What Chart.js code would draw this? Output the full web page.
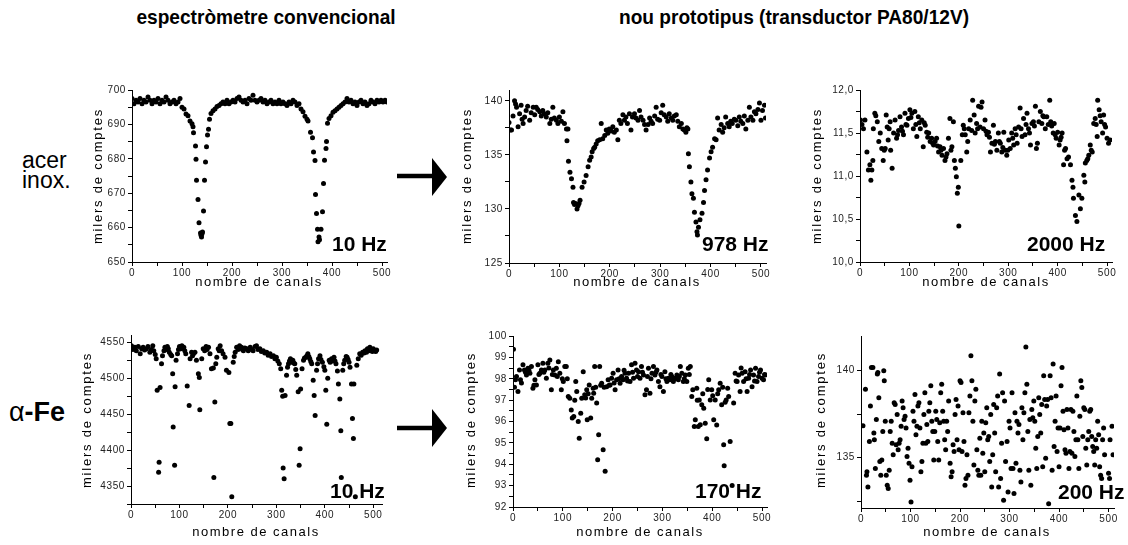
<!DOCTYPE html>
<html>
<head>
<meta charset="utf-8">
<script src="https://cdn.jsdelivr.net/npm/chart.js@4/dist/chart.umd.min.js"></script>
<style>
  body { margin: 0; background: #fff; width: 1128px; height: 545px; position: relative; overflow: hidden;
         font-family: "Liberation Sans", Arial, sans-serif; color: #000; }
  canvas { position: absolute; }
  .txt { position: absolute; white-space: nowrap; z-index: 3; }
  .head { font-family: "Liberation Sans Narrow", "Liberation Sans", Arial, sans-serif; font-weight: bold;
          font-size: 21px; top: 5px; transform: translateX(-50%) scaleX(0.91); }
  .ytitle { font-size: 13px; letter-spacing: 1.8px; transform: translate(-50%, -50%) rotate(-90deg); }
  .xtitle { font-size: 13px; letter-spacing: 1.5px; transform: translateX(-50%); }
  .hz { font-weight: bold; font-size: 21px; line-height: 24px; }
  .sample { font-size: 23px; line-height: 20px; }
</style>
</head>
<body>

<div class="txt head" style="left:266px">espectròmetre convencional</div>
<div class="txt head" style="left:794px">nou prototipus (transductor PA80/12V)</div>

<div class="txt sample" style="left:22px;top:150px">acer<br>inox.</div>
<div class="txt" style="left:9px;top:397px;font-size:27px;line-height:30px">α<b>-Fe</b></div>

<svg style="position:absolute;left:0;top:0;z-index:3" width="1128" height="545">
  <line x1="397" y1="176" x2="434" y2="176" stroke="#000" stroke-width="4.5"/>
  <polygon points="432,158 447,177 432,196" fill="#000"/>
  <line x1="397" y1="428" x2="434" y2="428" stroke="#000" stroke-width="4.5"/>
  <polygon points="432,409 447,428 432,447" fill="#000"/>
</svg>

<div class="txt ytitle" style="left:97px;top:176px">milers de comptes</div>
<div class="txt ytitle" style="left:466px;top:176px">milers de comptes</div>
<div class="txt ytitle" style="left:816px;top:176px">milers de comptes</div>
<div class="txt ytitle" style="left:86px;top:420px">milers de comptes</div>
<div class="txt ytitle" style="left:470px;top:420px">milers de comptes</div>
<div class="txt ytitle" style="left:820px;top:420px">milers de comptes</div>

<div class="txt xtitle" style="left:259px;top:274px">nombre de canals</div>
<div class="txt xtitle" style="left:637px;top:274px">nombre de canals</div>
<div class="txt xtitle" style="left:986px;top:274px">nombre de canals</div>
<div class="txt xtitle" style="left:256px;top:524px">nombre de canals</div>
<div class="txt xtitle" style="left:640px;top:524px">nombre de canals</div>
<div class="txt xtitle" style="left:987px;top:524px">nombre de canals</div>

<div class="txt hz" style="left:332px;top:232px">10 Hz</div>
<div class="txt hz" style="left:702px;top:232px">978 Hz</div>
<div class="txt hz" style="left:1027px;top:232px">2000 Hz</div>
<div class="txt hz" style="left:330px;top:479px">10 Hz</div>
<div class="txt hz" style="left:695px;top:479px">170 Hz</div>
<div class="txt hz" style="left:1058px;top:480px">200 Hz</div>

<script>
// [canal, milers de comptes]
const acerConv = [[0,697.5],[4,696],[8,697],[12,696.5],[16,697.5],[20,696],[24,697],[28,696.5],[32,698],[36,697],[40,696],[44,697],[48,696.5],[52,697.5],[56,696],[60,697],[64,696.5],[68,698],[72,697],[76,696],[80,696.5],[84,697],[88,696],[92,696.5],[96,697.5],[100,695],[104,694.5],[108,693],[112,692.5],[116,691],[120,690.2],[122,689.3],[123,687.6],[127,683.7],[128,679.9],[129,673.8],[132,668.2],[134,661.4],[137,658.4],[138,657.8],[139,657.3],[140,658.2],[141,658.7],[143,664.8],[145,673.8],[147,679.1],[149,683.5],[151,686.9],[153,688.6],[155,691.5],[158,693.2],[162,694],[166,694.5],[170,695.2],[174,695.5],[178,696],[182,696.5],[186,696],[190,697],[194,696],[198,696.5],[202,697],[206,696.5],[210,697.5],[214,698],[218,697],[222,696.5],[226,697],[230,696],[234,697.5],[238,697],[242,698.5],[246,697],[250,696.5],[254,697],[258,697.5],[262,696.5],[266,697],[270,696],[274,696.5],[278,697],[282,696],[286,696.5],[290,696],[294,697],[298,696],[302,696.5],[306,696],[310,695.5],[314,696.5],[318,696],[322,697],[326,696.5],[330,695.5],[334,696],[338,694.5],[342,693.7],[346,692.4],[350,691.5],[352,691],[357,687.7],[361,686.1],[363,682],[366,679.5],[367,669.6],[369,664.1],[371,659.5],[372,655.9],[374,657.3],[375,656.5],[378,659.5],[381,664.6],[383,672.8],[385,679.6],[388,683],[389,685],[391,690.3],[394,691.7],[398,692.5],[402,693.5],[406,694],[410,694.5],[414,695],[418,695.5],[422,696],[426,696.5],[430,697.5],[434,696.5],[438,697],[442,696],[446,696.5],[450,695.5],[454,696.5],[458,697],[462,696],[466,696.5],[470,695.5],[474,696],[478,697],[482,696.5],[486,696],[490,697],[494,696.5],[498,697],[502,696.5],[506,697],[510,696.5]];

const acer978 = [[0,138],[3,137.3],[5,137.3],[8,138.6],[11,140],[13,139.7],[15,139.4],[18,137.6],[21,138.8],[24,139.6],[26,138.3],[28,137.9],[31,138.5],[34,139.1],[37,139.5],[41,138.2],[44,138.9],[48,139.4],[51,138.7],[54,139.4],[57,139.2],[61,139],[64,138.6],[67,139.1],[70,138.8],[74,138.5],[77,138.9],[81,137.9],[84,138.3],[87,139.4],[90,138.4],[94,138.2],[97,137.9],[100,138.5],[104,138.1],[107,139],[110,137.9],[114,137.4],[115,136.3],[117,137.4],[118,134.4],[121,133.4],[124,132.8],[127,132],[128,130.6],[130,130.4],[132,130.5],[135,130],[137,130.3],[139,130.5],[141,130.8],[145,132],[149,132.5],[153,133.1],[157,133.9],[160,134.5],[163,134.8],[165,135.3],[168,135.6],[170,135.7],[173,136],[176,136.3],[180,136.4],[183,137.9],[186,136.5],[190,136.8],[193,137.3],[196,137],[199,137.4],[203,137.2],[206,137.6],[209,137.1],[213,137.3],[216,136.4],[219,138.2],[222,137.9],[226,138.7],[229,138.2],[232,138.5],[235,137.9],[239,138.8],[242,137.3],[245,138.5],[249,138.8],[252,138.4],[256,138.2],[259,139.1],[262,138.5],[266,138.2],[269,137.8],[272,137.3],[276,137.8],[279,138.4],[282,138.1],[285,137.9],[289,138.6],[292,139.4],[295,138.3],[299,138.2],[302,138.9],[305,139.6],[308,138.7],[312,138.5],[315,138.1],[318,138.8],[322,138.4],[325,138.2],[328,138.6],[332,138.7],[335,138.1],[338,137.6],[342,137.9],[345,137.4],[348,137.3],[351,137.1],[353,137.5],[355,137.4],[356,135.1],[358,133.9],[361,132.5],[363,131.4],[366,131],[368,129.7],[371,128.8],[373,127.9],[374,127.6],[376,128.3],[379,129],[383,129.6],[386,130.6],[388,131.7],[391,132.7],[394,133.6],[398,134.7],[401,135.3],[404,135.7],[408,136.5],[411,136.4],[414,138.4],[417,137.3],[421,137.8],[424,137.1],[427,137.5],[430,138.5],[434,137.9],[437,137.6],[440,138.1],[443,137.9],[447,138.3],[450,138.2],[454,137.7],[457,138.5],[460,138.1],[464,137.9],[467,138.6],[470,137.4],[474,138.2],[477,139.4],[480,138.5],[484,138.2],[487,139],[490,138.8],[494,139.2],[497,139.8],[500,138.2],[503,139.1],[507,139.6],[509,138.4]];

const acer2000 = [[1,11.65],[4,11.6],[7,11.55],[10,11.65],[14,11.28],[17,11.07],[20,11.13],[22,10.95],[24,11.07],[26,11.18],[27,11.55],[30,11.73],[32,11.7],[35,11.63],[38,11.4],[41,11.5],[44,11.32],[47,11.18],[49,11.3],[51,11.32],[53,11.71],[55,11.57],[57,11.42],[59,11.55],[61,11.63],[62,11.3],[65,11.09],[68,11.5],[71,11.65],[74,11.44],[76,11.48],[78,11.53],[81,11.69],[84,11.57],[86,11.52],[88,11.48],[91,11.73],[93,11.6],[95,11.59],[98,11.67],[101,11.77],[103,11.68],[105,11.73],[108,11.55],[111,11.75],[113,11.6],[115,11.46],[118,11.69],[120,11.62],[122,11.55],[125,11.65],[128,11.34],[130,11.62],[132,11.59],[135,11.51],[137,11.45],[139,11.5],[142,11.4],[145,11.44],[147,11.38],[149,11.36],[152,11.4],[155,11.44],[157,11.35],[159,11.28],[162,11.34],[164,11.3],[166,11.24],[169,11.32],[172,11.18],[174,11.22],[176,11.26],[179,11.44],[182,11.67],[184,11.3],[186,11.34],[189,11.63],[191,11.18],[193,11.09],[195,10.99],[197,10.8],[199,10.87],[200,10.42],[204,11.18],[207,11.48],[209,11.59],[211,11.55],[213,11.48],[216,11.28],[218,11.4],[220,11.55],[223,11.65],[226,11.53],[228,11.88],[231,11.71],[233,11.5],[236,11.61],[238,11.55],[240,11.81],[243,11.57],[245,11.8],[247,11.86],[250,11.55],[253,11.65],[255,11.52],[257,11.48],[260,11.51],[262,11.45],[264,11.28],[267,11.38],[270,11.59],[272,11.37],[274,11.4],[277,11.3],[280,11.5],[282,11.4],[284,11.38],[287,11.28],[289,11.33],[291,11.51],[294,11.3],[297,11.24],[299,11.3],[301,11.42],[304,11.32],[307,11.5],[309,11.44],[311,11.36],[314,11.55],[316,11.48],[318,11.38],[321,11.57],[324,11.79],[326,11.55],[328,11.46],[331,11.67],[334,11.48],[336,11.6],[338,11.73],[341,11.55],[343,11.5],[345,11.36],[348,11.61],[351,11.63],[353,11.58],[355,11.81],[357,11.32],[359,11.38],[362,11.63],[365,11.75],[368,11.61],[370,11.7],[372,11.69],[375,11.55],[378,11.69],[381,11.6],[384,11.88],[386,11.63],[388,11.58],[391,11.5],[393,11.61],[395,11.48],[397,11.44],[400,11.51],[403,11.36],[405,11.42],[407,11.45],[409,11.5],[412,11.13],[414,11.3],[416,11.32],[419,11.2],[422,11.22],[426,11.13],[429,10.95],[431,10.87],[432,10.74],[436,10.54],[439,10.47],[443,10.78],[446,10.62],[449,10.74],[453,11.01],[455,10.93],[456,11.15],[459,11.18],[461,11.2],[463,11.24],[466,11.36],[468,11.3],[470,11.28],[473,11.61],[476,11.67],[478,11.6],[480,11.46],[481,11.88],[484,11.77],[486,11.7],[488,11.63],[491,11.5],[493,11.71],[495,11.6],[497,11.57],[500,11.44],[503,11.38],[506,11.42]];

const feConv = [[1,4545],[4,4540],[8,4543],[11,4538],[15,4544],[19,4534],[22,4541],[25,4543],[28,4539],[32,4541],[35,4544],[39,4536],[42,4540],[45,4545],[47,4538],[50,4533],[52,4527],[54,4483],[57,4369],[58,4383],[60,4487],[63,4520],[65,4531],[68,4538],[70,4543],[73,4540],[75,4544],[77,4541],[79,4536],[82,4533],[84,4531],[86,4506],[87,4432],[90,4379],[91,4488],[93,4525],[96,4534],[98,4540],[100,4544],[103,4541],[105,4545],[107,4542],[109,4543],[111,4538],[113,4534],[116,4489],[120,4462],[122,4527],[125,4536],[127,4531],[129,4534],[132,4536],[135,4525],[139,4506],[141,4501],[142,4456],[146,4527],[149,4541],[152,4538],[155,4544],[157,4540],[160,4543],[163,4534],[166,4513],[170,4514],[171,4362],[173,4467],[175,4520],[177,4529],[180,4541],[182,4538],[184,4545],[187,4538],[190,4534],[194,4529],[197,4511],[202,4508],[204,4437],[206,4437],[208,4335],[211,4522],[213,4530],[215,4536],[218,4543],[221,4540],[224,4545],[226,4542],[228,4543],[230,4540],[232,4538],[235,4542],[239,4541],[242,4538],[246,4543],[249,4540],[252,4538],[256,4544],[259,4545],[262,4540],[266,4541],[269,4537],[273,4538],[276,4535],[280,4536],[283,4532],[287,4534],[290,4530],[294,4531],[297,4527],[300,4529],[303,4524],[306,4520],[309,4513],[311,4483],[313,4475],[314,4375],[316,4360],[318,4476],[321,4504],[323,4515],[325,4520],[327,4524],[329,4527],[332,4522],[334,4525],[336,4521],[338,4520],[340,4512],[342,4504],[345,4481],[347,4379],[349,4402],[350,4485],[353,4513],[356,4525],[358,4528],[361,4529],[363,4531],[365,4534],[367,4530],[369,4527],[371,4523],[373,4520],[376,4497],[378,4476],[380,4448],[383,4511],[385,4520],[387,4527],[390,4531],[392,4526],[395,4522],[398,4516],[400,4511],[402,4483],[404,4436],[406,4500],[409,4525],[411,4522],[414,4527],[416,4524],[419,4529],[421,4524],[423,4520],[426,4510],[428,4492],[431,4471],[433,4427],[434,4362],[437,4511],[439,4520],[441,4525],[444,4530],[446,4529],[448,4526],[450,4522],[452,4515],[455,4492],[457,4444],[459,4416],[460,4492],[463,4335],[466,4518],[469,4527],[472,4534],[475,4532],[478,4536],[481,4535],[483,4538],[486,4536],[488,4541],[491,4538],[493,4543],[496,4540],[498,4537],[500,4541],[503,4538],[505,4537],[507,4539]];

const fe170 = [[1,99.38],[3,97.6],[5,97.95],[7,98.1],[10,97.4],[13,98.41],[15,97.95],[17,97.8],[20,98.65],[23,98.41],[25,98.3],[27,98.18],[30,98.49],[32,98.4],[34,98.26],[37,98.57],[40,97.56],[42,97.7],[44,97.95],[47,97.71],[50,98.65],[52,98.2],[54,98.26],[57,98.41],[60,98.72],[62,98.3],[64,98.41],[67,98.02],[70,98.72],[72,98.5],[74,98.88],[77,97.48],[79,98.2],[81,98.41],[84,98.18],[87,98.49],[89,98.1],[91,98.8],[94,98.26],[97,97.48],[99,98],[101,97.87],[104,98.57],[107,98.57],[109,98],[111,97.17],[114,97.09],[117,96.54],[119,96.16],[122,96.23],[124,97],[126,97.87],[128,97.4],[131,96],[133,95.22],[136,96.39],[138,97.09],[141,98.33],[144,97.25],[146,97.1],[148,97.48],[149,96.08],[151,97.3],[153,97.71],[156,96.16],[158,97.09],[161,97.56],[162,97.32],[164,98.57],[166,97.6],[168,96.86],[170,94.21],[172,95.38],[174,98.57],[176,97.7],[178,97.79],[181,94.68],[183,97.6],[185,93.67],[188,97.63],[191,97.95],[193,97.7],[195,97.71],[198,98.02],[201,98.26],[203,97.8],[205,97.48],[208,97.95],[211,98.41],[213,98],[215,97.79],[218,98.1],[221,97.95],[223,98.4],[225,98.26],[228,98.02],[230,97.9],[232,98.26],[235,97.87],[238,98.65],[240,98.3],[242,98.02],[245,98.72],[248,98.41],[250,98.1],[252,98.33],[255,98.02],[258,98.57],[260,98.3],[262,98.18],[265,97.25],[268,97.48],[270,98.1],[272,98.49],[275,97.32],[277,98],[279,98.26],[282,98.57],[285,98.18],[287,98.3],[289,98.41],[292,97.87],[295,97.63],[297,98.2],[299,98.1],[302,97.4],[305,98.33],[307,98],[309,97.87],[312,98.02],[315,97.95],[317,98.2],[319,98.1],[322,97.87],[324,98],[326,98.02],[329,98.18],[332,97.95],[334,98.1],[336,98.57],[339,98.26],[342,97.87],[344,98],[346,98.18],[349,97.87],[352,98.49],[354,98.2],[356,98.57],[359,97.17],[361,97.48],[364,95.77],[366,96.08],[369,97.56],[370,97],[372,95.77],[374,97.01],[376,95.85],[379,96.78],[381,97.3],[383,96.62],[386,95.92],[389,95.19],[391,97.5],[393,97.95],[396,97.01],[399,97.48],[401,97.2],[403,96.08],[406,97.01],[409,95.84],[411,97.3],[413,97.48],[416,97.79],[419,96.78],[421,97.6],[423,94.91],[424,93.93],[426,96.9],[428,97.01],[431,97.56],[433,97.17],[436,95.07],[440,93.01],[443,96.86],[446,98.26],[448,97.9],[450,97.87],[453,98.18],[456,97.4],[458,98.5],[460,98.26],[463,97.87],[466,98.33],[468,98],[470,97.4],[473,98.02],[475,98.2],[477,98.41],[480,97.63],[483,98.18],[485,97.9],[487,98.49],[490,97.87],[493,98.1],[495,98.3],[497,98.41],[500,98.02],[503,97.95],[505,98.2],[507,98.18]];

const fe200 = [[4,136.84],[9,138.93],[11,133.99],[12,134.19],[14,133.31],[17,135.93],[19,137.97],[21,140.19],[24,140.19],[26,136.41],[27,136.03],[29,134.38],[31,137.19],[33,139.81],[34,139.9],[36,138.45],[38,134.77],[40,133.99],[42,134.86],[44,136.51],[46,140],[47,139.42],[49,137.09],[51,133.99],[53,133.41],[55,133.22],[57,134.28],[59,136.51],[61,137.09],[63,135.83],[65,135.16],[67,138.16],[69,138.06],[71,135.74],[73,137.48],[75,135.45],[77,135.83],[79,136.03],[81,136.8],[83,138.26],[85,137.87],[87,137.19],[89,137.38],[91,136.71],[93,135.06],[95,135.54],[97,134.67],[99,133.7],[101,132.44],[103,134.48],[105,137.67],[107,137.09],[109,138.64],[111,136.32],[113,136.8],[115,137.97],[117,138.16],[119,136.71],[121,134.19],[123,134.77],[125,135.83],[127,137.48],[129,138.74],[131,135.83],[133,136.9],[135,135.93],[137,137.67],[139,138.16],[141,139.13],[143,137.09],[145,136.51],[147,134.86],[149,136.51],[151,137.67],[153,137.19],[155,135.93],[157,134.86],[159,137],[161,138.74],[163,139.22],[165,137.67],[167,137.09],[169,136.03],[171,135.45],[173,137.09],[175,136.51],[177,138.26],[180,134.67],[182,133.9],[184,134.19],[186,135.74],[188,135.35],[190,137.48],[192,138.35],[194,136.03],[196,137.97],[198,135.45],[200,139.42],[202,139.32],[204,135.35],[206,137.58],[208,135.93],[210,133.41],[212,133.8],[214,135.16],[216,133.99],[218,137.58],[220,138.55],[222,140.87],[224,139.42],[226,137.09],[228,134.57],[230,138.26],[232,138.93],[234,135.45],[236,134.28],[238,133.99],[240,136.12],[242,133.99],[244,137.09],[246,135.25],[248,136.41],[250,134.19],[252,137],[254,137.87],[256,136.03],[258,136.22],[260,134.77],[262,137.48],[264,133.31],[266,135.16],[268,138.06],[270,136.41],[272,134.19],[274,137.87],[276,138.55],[278,133.31],[280,139.81],[282,133.8],[284,135.83],[286,138.74],[288,132.54],[290,138.26],[292,134.77],[295,135.93],[297,133.02],[299,137.09],[301,136.71],[303,134.38],[305,138.74],[307,134.38],[309,132.93],[311,137.58],[313,134.67],[315,137.09],[317,136.41],[319,136.9],[321,134.28],[323,133.6],[325,137.87],[327,136.03],[329,137.58],[331,138.74],[333,141.36],[335,139.22],[337,136.51],[339,134.28],[341,137.19],[343,133.41],[345,137.77],[347,137.29],[349,138.26],[351,137.09],[353,135.54],[355,134.38],[357,136.22],[359,138.45],[361,137.48],[363,136.41],[365,138.06],[367,134.48],[369,139.71],[371,138.35],[373,134.96],[375,137.97],[377,138.35],[379,132.34],[382,139.71],[384,138.45],[386,134.28],[388,140.39],[390,135.64],[392,137.09],[394,138.55],[396,135.35],[398,136.71],[400,134.48],[402,136.71],[404,139.13],[406,140.19],[408,137.67],[410,136.61],[412,135.45],[414,135.25],[416,137.77],[418,136.71],[420,134.38],[422,135.35],[424,137.77],[426,135.25],[428,137.67],[430,136.51],[432,135.06],[434,136.03],[436,138.55],[438,136.03],[440,134.38],[442,137.38],[444,139.42],[446,139.03],[448,136.22],[450,137.87],[452,137.77],[454,135.54],[456,134.57],[458,136.03],[460,136.51],[462,137.67],[464,137.77],[466,136.22],[468,135.64],[470,135.35],[472,134.57],[474,136.03],[476,135.54],[478,137.09],[480,136.32],[482,134.48],[484,133.99],[486,133.8],[488,136.03],[490,136.71],[492,135.16],[500,134.1],[502,133.8],[503,136.03],[507,136.8],[509,135.16]];

const xMajor = 100, xMinor = 50;

function tickList(min, max, step) {
  const out = [];
  for (let v = Math.ceil(min / step - 1e-9) * step; v <= max + 1e-9; v += step) out.push({ value: +v.toFixed(4) });
  return out;
}
const isMult = (v, s) => Math.abs(v / s - Math.round(v / s)) < 1e-6;

const tickFont = { family: '"Liberation Sans", Arial, sans-serif', size: 10 };

const spacing = {
  id: 'spacing',
  beforeDraw(chart) { chart.ctx.letterSpacing = '0.6px'; }
};

function panel(area, points, xMax, yMin, yMax, major, minor, fmt) {
  const yw = 46, tp = 8, rp = 14, xh = 22;
  const cv = document.createElement('canvas');
  cv.width = area.r - area.l + yw + rp;
  cv.height = area.b - area.t + tp + xh;
  cv.style.left = (area.l - yw) + 'px';
  cv.style.top = (area.t - tp) + 'px';
  document.body.appendChild(cv);

  new Chart(cv, {
    type: 'scatter',
    data: {
      datasets: [{
        data: points.map(([x, y]) => ({ x, y })),
        backgroundColor: '#000',
        borderWidth: 0,
        pointRadius: 2.5,
        pointHoverRadius: 2.5
      }]
    },
    options: {
      responsive: false,
      animation: false,
      events: [],
      layout: { padding: { top: tp, right: rp, left: 0, bottom: 0 } },
      plugins: { legend: { display: false }, tooltip: { enabled: false } },
      scales: {
        x: {
          type: 'linear', min: 0, max: xMax,
          afterFit: s => { s.height = xh; },
          afterBuildTicks: s => { s.ticks = tickList(0, xMax, xMinor); },
          ticks: { autoSkip: false, maxRotation: 0, padding: 1, color: '#222', font: tickFont,
                   callback: v => isMult(v, xMajor) ? String(v) : '' },
          grid: { drawOnChartArea: false, tickLength: 4, color: '#000' },
          border: { color: '#000', width: 1 }
        },
        y: {
          type: 'linear', min: yMin, max: yMax,
          afterFit: s => { s.width = yw; },
          afterBuildTicks: s => { s.ticks = tickList(yMin, yMax, minor); },
          ticks: { autoSkip: false, padding: 2, color: '#222', font: tickFont,
                   callback: v => isMult(v, major) ? fmt(v) : '' },
          grid: { drawOnChartArea: false, tickLength: 4, color: '#000' },
          border: { color: '#000', width: 1 }
        }
      }
    },
    plugins: [spacing]
  });
}

const intFmt = v => String(Math.round(v));
const commaFmt = v => v.toFixed(1).replace('.', ',');

panel({ l: 132, t: 90, r: 387, b: 262 }, acerConv, 510, 650, 700, 10, 5, intFmt);
panel({ l: 509, t: 90, r: 766, b: 263 }, acer978, 510, 125, 141, 5, 2.5, intFmt);
panel({ l: 860, t: 90, r: 1112, b: 262 }, acer2000, 510, 10, 12, 0.5, 0.25, commaFmt);
panel({ l: 131, t: 335, r: 382, b: 504 }, feConv, 518, 4325, 4560, 50, 25, intFmt);
panel({ l: 513, t: 336, r: 767, b: 507 }, fe170, 510, 92, 100, 1, 0.5, intFmt);
panel({ l: 861, t: 336, r: 1114, b: 508 }, fe200, 511, 132.1, 142, 5, 2.5, intFmt);
</script>
</body>
</html>
